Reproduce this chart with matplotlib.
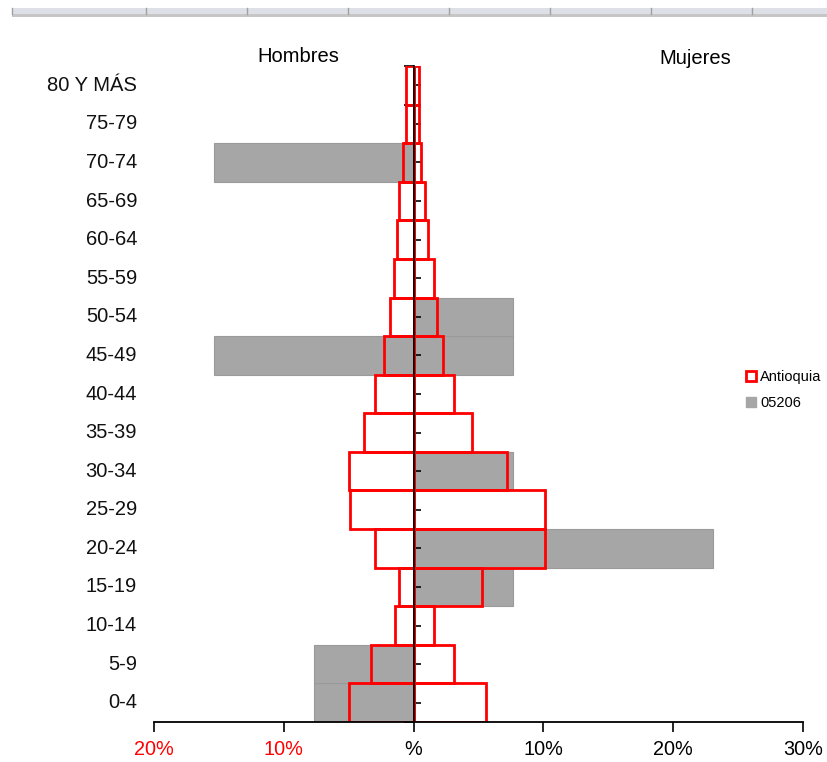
import matplotlib
matplotlib.use("Agg")
import matplotlib.pyplot as plt
from matplotlib.lines import Line2D
from matplotlib.patches import Rectangle
import matplotlib.transforms as mtransforms
import numpy as np

plt.rcParams['font.family'] = ['Liberation Sans', 'DejaVu Sans']

# Age groups, bottom to top
categories = ["0-4", "5-9", "10-14", "15-19", "20-24", "25-29", "30-34", "35-39",
              "40-44", "45-49", "50-54", "55-59", "60-64", "65-69", "70-74",
              "75-79", "80 Y MÁS"]

# Antioquia (%), men and women
antioquia_hombres = [5.0, 3.25, 1.4, 1.15, 3.0, 4.9, 5.0, 3.85, 2.95, 2.25,
                     1.85, 1.5, 1.3, 1.15, 0.8, 0.55, 0.55]
antioquia_mujeres = [5.55, 3.15, 1.6, 5.3, 10.15, 10.1, 7.2, 4.5, 3.15, 2.25,
                     1.8, 1.55, 1.1, 0.9, 0.55, 0.4, 0.4]

# Municipality 05206 (%), men and women
m05206_hombres = [7.69, 7.69, 0, 0, 0, 0, 0, 0, 0, 15.38, 0, 0, 0, 0, 15.38, 0, 0]
m05206_mujeres = [0, 0, 0, 7.69, 23.08, 0, 7.69, 0, 0, 7.69, 7.69, 0, 0, 0, 0, 0, 0]

xtick_values = [-20, -10, 0, 10, 20, 30]
xtick_labels = ["20%", "10%", "%", "10%", "20%", "30%"]
xtick_colors = ["#ff0000", "#ff0000", "black", "black", "black", "black"]

W, H = 828, 762
fig = plt.figure(figsize=(W / 100, H / 100), dpi=100)
ax = fig.add_axes([154 / W, 1 - 722 / H, (803 - 154) / W, (722 - 66) / H])

y = np.arange(len(categories))
gray = "#a6a6a6"
ax.barh(y, -np.array(m05206_hombres), height=1.0, color=gray, edgecolor="#9a9a9a",
        linewidth=0.8, zorder=1)
ax.barh(y, m05206_mujeres, height=1.0, color=gray, edgecolor="#9a9a9a",
        linewidth=0.8, zorder=1)
ax.barh(y, -np.array(antioquia_hombres), height=1.0, facecolor="none",
        edgecolor="#ff0000", linewidth=2.0, zorder=2)
ax.barh(y, antioquia_mujeres, height=1.0, facecolor="none",
        edgecolor="#ff0000", linewidth=2.0, zorder=2)

ax.set_xlim(-20, 30)
ax.set_ylim(-0.5, len(categories) - 0.5)

for s in ["top", "right"]:
    ax.spines[s].set_visible(False)
ax.spines["left"].set_position(("data", 0))
ax.spines["left"].set_zorder(5)
ax.spines["left"].set_linewidth(1.3)
ax.spines["bottom"].set_linewidth(1.3)

ax.set_yticks(np.arange(-0.5, len(categories), 1.0))
ax.set_yticklabels([])
ax.set_yticks(y, minor=True)
ax.tick_params(axis="y", which="major", direction="out", length=7, width=1.2)
ax.tick_params(axis="y", which="minor", direction="in", length=5, width=1.2)

ax.set_xticks(xtick_values)
ax.set_xticklabels(xtick_labels, fontsize=14.3)
for lab, c in zip(ax.get_xticklabels(), xtick_colors):
    lab.set_color(c)
ax.tick_params(axis="x", direction="out", length=7, width=1.2, pad=6)

trans = mtransforms.blended_transform_factory(ax.transAxes, ax.transData)
for yi, cat in zip(y, categories):
    ax.text(-0.026, yi, cat, transform=trans, ha="right", va="center",
            fontsize=14.5, color="#111111")

fig.text(298 / W, 1 - 56 / H, "Hombres", ha="center", va="center", fontsize=14.5)
fig.text(695 / W, 1 - 58 / H, "Mujeres", ha="center", va="center", fontsize=14.5)

handles = [
    Line2D([], [], linestyle="none", marker="s", markersize=7,
           markerfacecolor="white", markeredgecolor="#ff0000", markeredgewidth=2),
    Line2D([], [], linestyle="none", marker="s", markersize=7,
           markerfacecolor=gray, markeredgecolor=gray),
]
fig.legend(handles, ["Antioquia", "05206"], loc="upper left",
           bbox_to_anchor=(747 / W, 1 - 370 / H), frameon=False, fontsize=10.5,
           handlelength=0.6, handletextpad=0.3, labelspacing=0.85,
           borderaxespad=0, borderpad=0)

# spreadsheet header strip at the top
fig.add_artist(Rectangle((12 / W, 1 - 14 / H), (W - 12) / W, 6 / H,
                         transform=fig.transFigure, facecolor="#dde0e6",
                         edgecolor="none"))
fig.add_artist(Rectangle((12 / W, 1 - 17 / H), (W - 12) / W, 3 / H,
                         transform=fig.transFigure, facecolor="#c6c6c6",
                         edgecolor="none"))
for xs in [12, 146, 247, 348, 449, 550, 651, 752]:
    fig.add_artist(Line2D([xs / W, xs / W], [1 - 14 / H, 1 - 8 / H],
                          transform=fig.transFigure, color="#a0a0a0", linewidth=1))

fig.savefig("out.png", dpi=100)
